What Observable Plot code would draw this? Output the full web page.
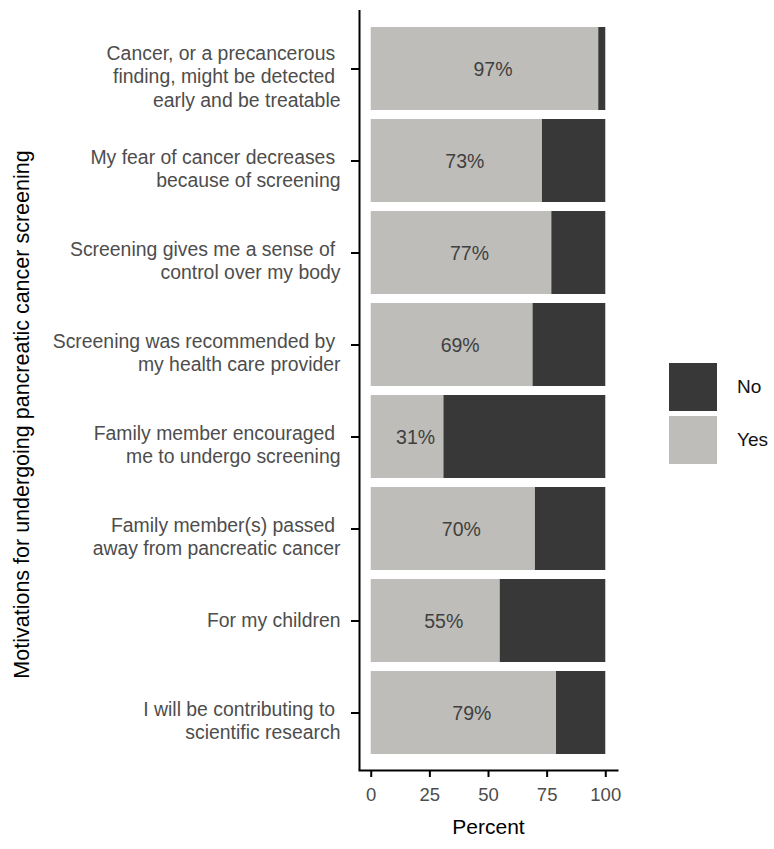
<!DOCTYPE html>
<html>
<head>
<meta charset="utf-8">
<script src="https://cdn.jsdelivr.net/npm/d3@7"></script>
<script src="https://cdn.jsdelivr.net/npm/@observablehq/plot@0.6"></script>
<style>
  html, body { margin: 0; padding: 0; background: #fff; }
  #wrap { position: relative; width: 774px; height: 849px; font-family: "Liberation Sans", Arial, Helvetica, sans-serif; }
  .key { position: absolute; width: 48px; height: 48px; }
  .klab { position: absolute; font-size: 19px; color: #111; line-height: 1; }
</style>
</head>
<body>
<div id="wrap"></div>
<script>
// ---- data ----
const categories = [
  "Cancer, or a precancerous\u00a0\nfinding, might be detected\u00a0\nearly and be treatable",
  "My fear of cancer decreases\u00a0\nbecause of screening",
  "Screening gives me a sense of\u00a0\ncontrol over my body",
  "Screening was recommended by\u00a0\nmy health care provider",
  "Family member encouraged\u00a0\nme to undergo screening",
  "Family member(s) passed\u00a0\naway from pancreatic cancer",
  "For my children",
  "I will be contributing to\u00a0\nscientific research"
];
const yesPct = [97, 73, 77, 69, 31, 70, 55, 79];
const noPct  = [3, 27, 23, 31, 69, 30, 45, 21];
const responses = ["No", "Yes"];
const colors = ["#383838", "#bebdb9"];
const xTicks = [0, 25, 50, 75, 100];

const rows = [];
categories.forEach((c, i) => {
  rows.push({category: c, response: "Yes", value: yesPct[i]});
  rows.push({category: c, response: "No", value: noPct[i]});
});
const yesRows = rows.filter(d => d.response === "Yes");
const single = categories.filter(c => !c.includes("\n"));
const multi = categories.filter(c => c.includes("\n"));

const font = "Liberation Sans, Arial, Helvetica, sans-serif";

const chart = Plot.plot({
  width: 774,
  height: 849,
  marginLeft: 359,
  marginRight: 157,
  marginTop: 10,
  marginBottom: 79,
  style: {fontFamily: font, background: "white", overflow: "visible"},
  x: {domain: [-5, 105]},
  y: {type: "band", domain: categories, paddingInner: 0.1, paddingOuter: 0.15},
  color: {domain: responses, range: colors},
  marks: [
    Plot.barX(rows, {y: "category", x: "value", fill: "response", order: ["Yes", "No"]}),
    Plot.text(yesRows, {y: "category", x: d => d.value / 2, text: d => d.value + "%", dx: 8, dy: 1, fontSize: 19.5, fill: "#404040"}),
    Plot.ruleX([-5], {stroke: "black", strokeWidth: 2}),
    Plot.frame({anchor: "bottom", stroke: "black", strokeWidth: 2}),
    Plot.axisX(xTicks, {tickSize: 7, tickPadding: 10, fontSize: 18.5, fill: "#4d4d4d", stroke: "black", strokeWidth: 2, label: null}),
    Plot.axisY({tickSize: 8, tickFormat: () => "", stroke: "black", strokeWidth: 2, label: null}),
    Plot.text(multi, {y: d => d, text: d => d, frameAnchor: "left", textAnchor: "end", dx: -19, dy: 7, lineHeight: 1.2, fontSize: 19.4, fill: "#4d4d4d"}),
    Plot.text(single, {y: d => d, text: d => d, frameAnchor: "left", textAnchor: "end", dx: -19, dy: 0, fontSize: 19.4, fill: "#4d4d4d"}),
    Plot.text(["Percent"], {frameAnchor: "bottom", dy: 63, fontSize: 21, fill: "black"}),
    Plot.text(["Motivations for undergoing pancreatic cancer screening"], {frameAnchor: "left", textAnchor: "middle", dx: -337, dy: 24, rotate: -90, fontSize: 21.5, fill: "black"})
  ]
});

const wrap = document.getElementById("wrap");
wrap.appendChild(chart);

// legend (HTML, right side)
const legendTop = [363, 416];
["No", "Yes"].forEach((r, i) => {
  const k = document.createElement("div");
  k.className = "key";
  k.style.left = "669px";
  k.style.top = legendTop[i] + "px";
  k.style.background = colors[responses.indexOf(r)];
  wrap.appendChild(k);
  const t = document.createElement("div");
  t.className = "klab";
  t.textContent = r;
  t.style.left = "737px";
  t.style.top = (legendTop[i] + 14) + "px";
  wrap.appendChild(t);
});
</script>
</body>
</html>
